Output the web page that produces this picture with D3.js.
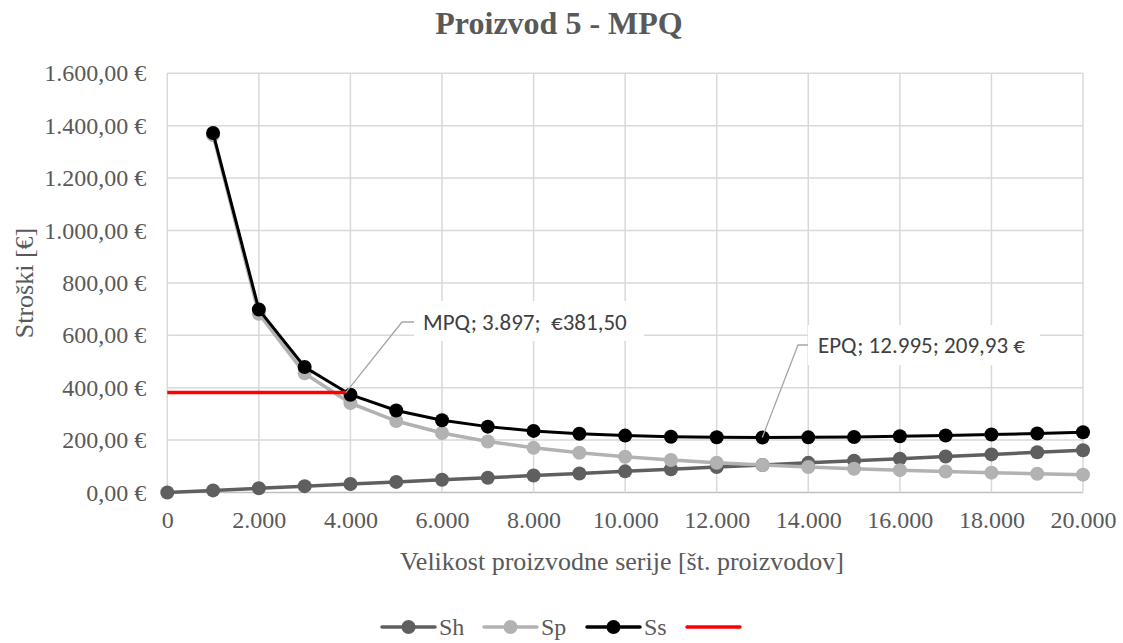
<!DOCTYPE html>
<html><head><meta charset="utf-8">
<script src="https://cdn.jsdelivr.net/npm/d3@7"></script>
<style>body{margin:0;background:#fff}svg{display:block}</style>
</head><body>
<script>
const xValues = [0,1000,2000,3000,4000,5000,6000,7000,8000,9000,10000,11000,12000,13000,14000,15000,16000,17000,18000,19000,20000];
const shValues = [0,8.08,16.15,24.23,32.31,40.39,48.46,56.54,64.62,72.69,80.77,88.85,96.92,105.0,113.1,121.2,129.2,137.3,145.4,153.5,161.5];
const spValues = [null,1364,682,454.7,341,272.8,227.3,194.9,170.5,151.6,136.4,124,113.7,104.9,97.4,90.9,85.3,80.2,75.8,71.8,68.2];
const ssValues = [null,1372.1,698.2,478.9,373.3,313.2,275.7,251.4,235.1,224.3,217.2,212.8,210.6,209.9,210.5,212.1,214.5,217.5,221.2,225.3,229.7];
const mpqLine = [[0,381.5],[3897,381.5]];
const mpqPoint = {x:3897, y:381.5, label:"MPQ; 3.897;  €381,50"};
const epqPoint = {x:12995, y:209.93, label:"EPQ; 12.995; 209,93 €"};
const yTicks = [0,200,400,600,800,1000,1200,1400,1600];
const xTicks = [0,2000,4000,6000,8000,10000,12000,14000,16000,18000,20000];
const seriesNames = ["Sh","Sp","Ss",""];
const titleText = "Proizvod 5 - MPQ";
const xTitle = "Velikost proizvodne serije [št. proizvodov]";
const yTitle = "Stroški [€]";

const W=1123,H=643;
const svg=d3.select("body").append("svg").attr("width",W).attr("height",H);
const x=d3.scaleLinear().domain([0,20000]).range([167.3,1083]);
const y=d3.scaleLinear().domain([0,1600]).range([492.5,73.3]);
const textCol="#595959";
const serif="'Liberation Serif','Times New Roman',serif";
const sans="Carlito,Lato,'Open Sans',sans-serif";

const fmtY=v=>{const s=d3.format(",.2f")(v);return s.replace(/,/g,"#").replace(".",",").replace(/#/g,".")+"\u00a0€";};
const fmtX=v=>d3.format(",")(v).replace(/,/g,".");

// grid
const g=svg.append("g");
g.selectAll("line.h").data(yTicks).join("line").attr("x1",x(0)).attr("x2",x(20000))
 .attr("y1",d=>y(d)).attr("y2",d=>y(d)).attr("stroke",d=>d===0?"#bfbfbf":"#d9d9d9").attr("stroke-width",1.5);
g.selectAll("line.v").data(xTicks).join("line").attr("y1",y(0)).attr("y2",y(1600))
 .attr("x1",d=>x(d)).attr("x2",d=>x(d)).attr("stroke","#d9d9d9").attr("stroke-width",1.5);

// axis labels via d3 axes
const yAxis=d3.axisLeft(y).tickValues(yTicks).tickFormat(fmtY).tickSize(0).tickPadding(21);
const ya=svg.append("g").attr("transform",`translate(${x(0)},0)`).call(yAxis);
ya.select(".domain").remove();
ya.attr("font-family",serif).attr("font-size",24);
ya.selectAll("text").attr("fill",textCol);
const xAxis=d3.axisBottom(x).tickValues(xTicks).tickFormat(fmtX).tickSize(0).tickPadding(18);
const xa=svg.append("g").attr("transform",`translate(0,${y(0)})`).call(xAxis);
xa.select(".domain").remove();
xa.attr("font-family",serif).attr("font-size",24);
xa.selectAll("text").attr("fill",textCol);

// annotation boxes (behind series)
function annot(ty,bx,bw){
  svg.append("rect").attr("x",bx).attr("y",ty-21).attr("width",bw).attr("height",40).attr("fill","#fff");
}
annot(322,414,230);
annot(346,808,232);

// series
const series=[
 {vals:shValues,col:"#5f5f5f",w:3.5},
 {vals:spValues,col:"#b2b2b2",w:3.5},
 {vals:ssValues,col:"#000000",w:3}
];
series.forEach(s=>{
  const pts=xValues.map((xv,i)=>[xv,s.vals[i]]).filter(d=>d[1]!=null);
  svg.append("path").datum(pts).attr("fill","none").attr("stroke",s.col).attr("stroke-width",s.w)
   .attr("d",d3.line().x(d=>x(d[0])).y(d=>y(d[1])));
  svg.selectAll(null).data(pts).join("circle").attr("cx",d=>x(d[0])).attr("cy",d=>y(d[1])).attr("r",7).attr("fill",s.col);
});
svg.append("path").datum(mpqLine).attr("fill","none").attr("stroke","#ff0000").attr("stroke-width",3.5)
 .attr("d",d3.line().x(d=>x(d[0])).y(d=>y(d[1])));

// leaders + labels
function leader(p,ex,ey,hx,label,tx){
  svg.append("polyline").attr("points",`${x(p.x)},${y(p.y)} ${ex},${ey} ${hx},${ey}`)
   .attr("fill","none").attr("stroke","#a6a6a6").attr("stroke-width",1.3);
  svg.append("text").attr("x",tx).attr("y",ey).attr("dy","0.35em").attr("font-family",sans)
   .attr("font-size",23).attr("fill","#404040").style("white-space","pre").text(label);
}
leader(mpqPoint,402,322,414,mpqPoint.label,423);
leader(epqPoint,798,345,808,epqPoint.label,818);

// titles
svg.append("text").attr("x",559).attr("y",34).attr("text-anchor","middle").attr("font-family",serif)
 .attr("font-size",32).attr("font-weight","bold").attr("fill",textCol).text(titleText);
svg.append("text").attr("x",622).attr("y",570).attr("text-anchor","middle").attr("font-family",serif)
 .attr("font-size",26).attr("fill",textCol).text(xTitle);
svg.append("text").attr("transform",`translate(33,283) rotate(-90)`).attr("text-anchor","middle").attr("font-family",serif)
 .attr("font-size",26).attr("fill",textCol).text(yTitle);

// legend
const legItems=[
 {name:seriesNames[0],col:"#5f5f5f",x0:382,marker:true},
 {name:seriesNames[1],col:"#b2b2b2",x0:484,marker:true},
 {name:seriesNames[2],col:"#000000",x0:587,marker:true},
 {name:seriesNames[3],col:"#ff0000",x0:687,marker:false}
];
const ly=627;
legItems.forEach(it=>{
  svg.append("line").attr("x1",it.x0).attr("x2",it.x0+53).attr("y1",ly).attr("y2",ly).attr("stroke",it.col).attr("stroke-width",3.5).attr("stroke-linecap","round");
  if(it.marker) svg.append("circle").attr("cx",it.x0+26.5).attr("cy",ly).attr("r",7).attr("fill",it.col);
  if(it.name) svg.append("text").attr("x",it.x0+57).attr("y",ly).attr("dy","0.35em").attr("font-family",serif).attr("font-size",24).attr("fill",textCol).text(it.name);
});
</script>
</body></html>
